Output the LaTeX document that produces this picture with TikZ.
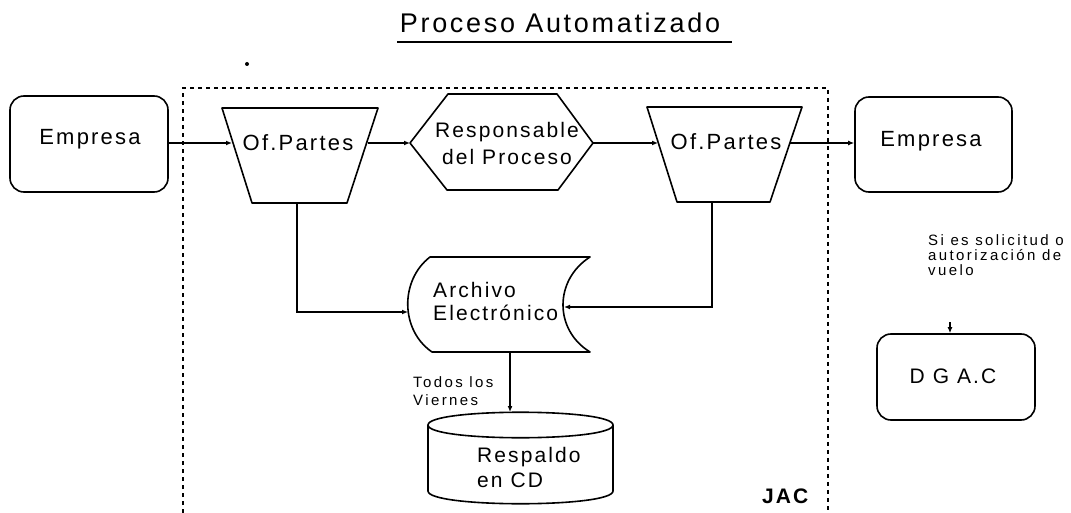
\documentclass[tikz,border=0pt]{standalone}
\usepackage{fontspec}
\setmainfont{Liberation Sans}
\newfontfamily\lsfont[LetterSpace=10]{Liberation Sans}
\newfontfamily\lssmall[LetterSpace=16]{Liberation Sans}
\usetikzlibrary{arrows.meta}
\begin{document}
\begin{tikzpicture}[x=1pt,y=-1pt,
  outline/.style={draw, line width=1.6pt, line join=round},
  rbox/.style={draw, line width=1.6pt, rounded corners=14pt, inner sep=0pt},
  conn/.style={line width=1.3pt, -{Latex[length=6pt,width=5pt]}},
  frame/.style={line width=1.5pt, dash pattern=on 4pt off 4pt},
  txt/.style={font=\lsfont\fontsize{22}{25}\selectfont, anchor=base, inner sep=0pt},
  ltxt/.style={font=\lsfont\fontsize{21}{24}\selectfont, anchor=base west, inner sep=0pt},
  stxt/.style={font=\lssmall\fontsize{15}{15}\selectfont, anchor=base west, inner sep=0pt}]
\useasboundingbox (0,0) rectangle (1071,513);

% title
\node[font=\lsfont\fontsize{27}{30}\selectfont, anchor=base, inner sep=0pt] (title) at (560,33) {Proceso Automatizado};
\draw[line width=1.8pt] (397,42) -- (732,42);
\fill (247,64) circle (2pt);

% JAC frame
\draw[frame] (183,513) -- (183,88) -- (828,88) -- (828,513);
\node[font=\lsfont\bfseries\fontsize{21}{24}\selectfont, anchor=base west, inner sep=0pt] (jac) at (762,503) {JAC};

% Empresa left
\node[rbox, minimum width=158pt, minimum height=96pt] (emp1) at (89,144) {};
\node[txt] (emp1t) at (90,145) {Empresa};

% Of.Partes left (trapezoid)
\draw[outline] (222,108) -- (378,108) -- (347,203) -- (252,203) -- cycle;
\node[txt] (of1t) at (298,151) {Of.Partes};
\coordinate (of1in) at (232,143);
\coordinate (of1out) at (368,143);
\coordinate (of1bot) at (297,203);

% Hexagon
\draw[outline] (410,143) -- (448,94) -- (557,94) -- (593,143) -- (558,190) -- (447,190) -- cycle;
\node[txt, font=\lsfont\fontsize{21}{25}\selectfont] (hext1) at (507,138) {Responsable};
\node[txt, font=\lsfont\fontsize{21}{25}\selectfont] (hext2) at (507,165) {del Proceso};
\coordinate (hexin) at (410,143);
\coordinate (hexout) at (593,143);

% Of.Partes right
\draw[outline] (647,107) -- (802,107) -- (770,202) -- (677,202) -- cycle;
\node[txt] (of2t) at (726,150) {Of.Partes};
\coordinate (of2in) at (658,143);
\coordinate (of2out) at (790,143);
\coordinate (of2bot) at (712,202);

% Empresa right
\node[rbox, minimum width=157pt, minimum height=95pt] (emp2) at (933.5,144.5) {};
\node[txt] (emp2t) at (931,147) {Empresa};

% Archivo electronico (stored data)
\draw[outline] (430,257) -- (590,257) .. controls (554,280) and (554,330) .. (590,352)
  -- (432,352) .. controls (400,330) and (400,280) .. (430,257) -- cycle;
\node[ltxt] (arch1) at (433,297) {Archivo};
\node[ltxt] (arch2) at (433,320) {Electrónico};
\coordinate (archL) at (408,312);
\coordinate (archR) at (564,307);
\coordinate (archB) at (510,352);

% Cylinder
\draw[outline] (428,425) .. controls (428,408) and (613,408) .. (613,425)
  .. controls (613,442) and (428,442) .. (428,425) -- cycle;
\draw[outline] (428,425) -- (428,491) .. controls (428,508) and (613,508) .. (613,491) -- (613,425);
\coordinate (cylT) at (510,412);
\node[ltxt] (cyl1) at (477,462) {Respaldo};
\node[ltxt] (cyl2) at (477,487) {en CD};

% DGAC
\node[rbox, minimum width=158pt, minimum height=86pt] (dgac) at (956,377) {};
\node[txt, font=\lsfont\fontsize{21}{25}\selectfont] (dgact) at (953,383) {D G A.C};
\coordinate (dgsrc) at (950,322);

% notes
\node[stxt] (n1) at (928,246) {Si es solicitud o};
\node[stxt] (n2) at (928,261) {autorización de};
\node[stxt] (n3) at (928,276) {vuelo};
\node[stxt] (v1) at (413,387) {Todos los};
\node[stxt] (v2) at (413,405) {Viernes};

% connectors
\draw[conn] (emp1.east |- of1in) -- (of1in);
\draw[conn] (of1out) -- (hexin);
\draw[conn] (hexout) -- (of2in);
\draw[conn] (of2out) -- (emp2.west |- of2out);
\draw[conn] (of1bot) |- (archL);
\draw[conn] (of2bot) |- (archR);
\draw[conn] (archB) -- (cylT);
\draw[conn] (dgsrc) -- (dgsrc |- dgac.north);
\end{tikzpicture}
\end{document}
